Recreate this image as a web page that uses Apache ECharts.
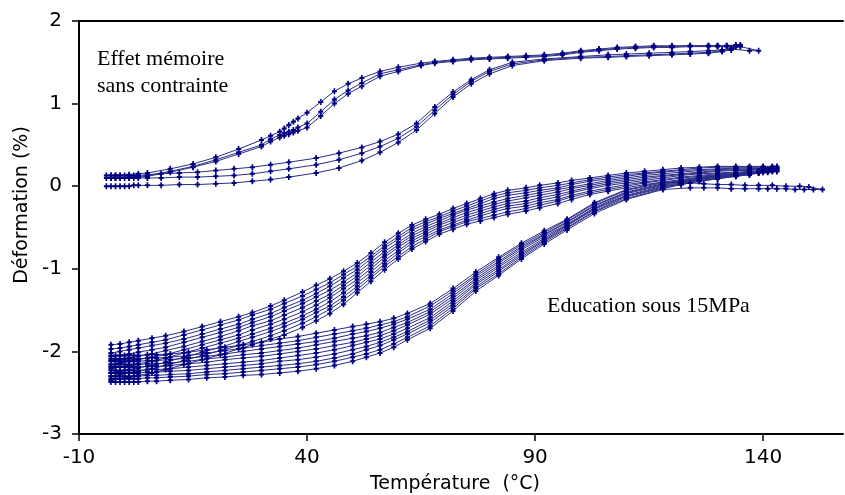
<!DOCTYPE html>
<html><head><meta charset="utf-8">
<script src="https://cdn.jsdelivr.net/npm/echarts@6/dist/echarts.min.js"></script>
<style>html,body{margin:0;padding:0;background:#fff}#c{width:845px;height:495px}</style>
</head><body><div id="c"></div>
<script>
// ---- Tick labels ----
const xTicks = [-10, 40, 90, 140];
const yTicks = [-3, -2, -1, 0, 1, 2];

// ---- Upper group: "Effet mémoire sans contrainte" (3 cycles) ----
const upHeatT = [-4,-3,-2,-1,0,1,2,3,5,8, 12,16,20,24,28,32,36, 42,47,52,56,60,64,68,72,76,80, 85,92,100,106,110,115,120,124,128,131,133];
const upHeat1 = [0.00,0.00,0.00,0.00,0.00,0.00,0.01,0.01,0.01,0.01, 0.02,0.02,0.03,0.04,0.06,0.08,0.11, 0.16,0.22,0.31,0.41,0.53,0.68,0.88,1.08,1.24,1.36, 1.46,1.52,1.55,1.56,1.57,1.58,1.59,1.60,1.61,1.63,1.65];
const upHeat2 = [0.10,0.10,0.10,0.10,0.10,0.10,0.10,0.10,0.10,0.10, 0.11,0.11,0.12,0.13,0.15,0.18,0.21, 0.26,0.32,0.40,0.48,0.58,0.72,0.92,1.11,1.27,1.39, 1.48,1.53,1.56,1.57,1.58,1.59,1.60,1.61,1.62,1.64,1.66];
const upHeat3 = [0.13,0.13,0.13,0.13,0.13,0.13,0.13,0.13,0.14,0.15, 0.16,0.17,0.19,0.21,0.23,0.26,0.29, 0.34,0.40,0.47,0.54,0.63,0.76,0.96,1.14,1.29,1.41, 1.50,1.54,1.57,1.59,1.60,1.61,1.62,1.63,1.64,1.65,1.67];
const upCoolT = [135,134,132,130,128, 124,120,116,112,108,104, 100,96,92,88,84,80, 76,72,68,65, 60,56,52,49,46,43,40, 38,37,36,35,34,32,30, 25,20,15,10,5, 3,1,-1,-2,-3];
const upCoolA = [1.70,1.70,1.70,1.70,1.70, 1.70,1.70,1.70,1.69,1.68,1.66, 1.64,1.61,1.59,1.58,1.57,1.56, 1.55,1.53,1.51,1.49, 1.44,1.39,1.31,1.24,1.15,1.02,0.89, 0.82,0.78,0.74,0.70,0.66,0.61,0.56, 0.45,0.35,0.27,0.21,0.16, 0.15,0.14,0.13,0.13,0.13];
const upCoolB = [1.71,1.71,1.70,1.70,1.70, 1.70,1.69,1.69,1.68,1.67,1.65, 1.63,1.60,1.58,1.57,1.56,1.55, 1.54,1.52,1.50,1.47, 1.41,1.36,1.25,1.16,1.05,0.90,0.76, 0.71,0.68,0.66,0.64,0.62,0.57,0.50, 0.41,0.32,0.24,0.18,0.13, 0.12,0.11,0.10,0.10,0.10];
const upCoolC = [1.69,1.69,1.69,1.69,1.69, 1.69,1.68,1.68,1.67,1.66,1.64, 1.62,1.59,1.57,1.56,1.55,1.54, 1.53,1.51,1.49,1.46, 1.39,1.33,1.21,1.12,1.00,0.85,0.71, 0.67,0.65,0.63,0.61,0.59,0.54,0.48, 0.39,0.30,0.23,0.17,0.12, 0.11,0.10,0.10,0.10,0.10];
const upTailT = [137, 139];
const upTailY = [1.64, 1.64];

// ---- Lower group: "Education sous 15MPa" (10 cycles) ----
const lowHeatT = [-3,-2,-1,0,1,2,3,5,7,10, 14,18,22,26,30,34,38,42,46,50, 53,56,59,62, 67,72,77,82,87,92,97,103,110,118, 122,126,130,134,137,139,141];
const lowHeatY = [
  [-2.05,-2.05,-2.05,-2.05,-2.05,-2.05,-2.05,-2.04,-2.04,-2.03, -2.01,-1.98,-1.95,-1.92,-1.89,-1.85,-1.82,-1.78,-1.74,-1.70, -1.67,-1.64,-1.60,-1.54, -1.42,-1.24,-1.04,-0.86,-0.69,-0.54,-0.40,-0.20,-0.04,0.05, 0.08,0.11,0.13,0.15,0.17,0.18,0.20],
  [-2.09,-2.09,-2.09,-2.09,-2.09,-2.09,-2.09,-2.08,-2.08,-2.07, -2.05,-2.02,-1.99,-1.96,-1.93,-1.90,-1.87,-1.83,-1.79,-1.75, -1.72,-1.68,-1.64,-1.58, -1.45,-1.27,-1.07,-0.88,-0.71,-0.56,-0.41,-0.21,-0.05,0.04, 0.07,0.10,0.13,0.15,0.17,0.18,0.20],
  [-2.12,-2.12,-2.12,-2.12,-2.12,-2.12,-2.12,-2.11,-2.11,-2.10, -2.08,-2.06,-2.03,-2.00,-1.97,-1.94,-1.91,-1.88,-1.84,-1.79, -1.76,-1.72,-1.67,-1.61, -1.49,-1.30,-1.09,-0.91,-0.73,-0.58,-0.43,-0.23,-0.07,0.03, 0.07,0.10,0.12,0.14,0.16,0.18,0.19],
  [-2.16,-2.16,-2.16,-2.16,-2.16,-2.16,-2.16,-2.15,-2.15,-2.14, -2.12,-2.09,-2.07,-2.04,-2.02,-1.99,-1.96,-1.92,-1.88,-1.84, -1.81,-1.77,-1.71,-1.65, -1.52,-1.33,-1.12,-0.93,-0.75,-0.59,-0.44,-0.24,-0.08,0.02, 0.06,0.09,0.12,0.14,0.16,0.18,0.19],
  [-2.19,-2.19,-2.19,-2.19,-2.19,-2.19,-2.19,-2.18,-2.18,-2.17, -2.15,-2.13,-2.10,-2.08,-2.06,-2.03,-2.00,-1.97,-1.93,-1.89, -1.85,-1.81,-1.75,-1.68, -1.55,-1.36,-1.14,-0.96,-0.77,-0.61,-0.46,-0.26,-0.09,0.01, 0.05,0.08,0.11,0.13,0.15,0.17,0.19],
  [-2.23,-2.23,-2.23,-2.23,-2.23,-2.23,-2.23,-2.22,-2.22,-2.21, -2.19,-2.17,-2.15,-2.13,-2.11,-2.08,-2.05,-2.02,-1.98,-1.93, -1.89,-1.85,-1.79,-1.72, -1.59,-1.39,-1.17,-0.98,-0.80,-0.63,-0.47,-0.27,-0.11,0.00, 0.04,0.08,0.11,0.13,0.15,0.17,0.18],
  [-2.26,-2.26,-2.26,-2.26,-2.26,-2.26,-2.26,-2.25,-2.25,-2.24, -2.23,-2.21,-2.19,-2.17,-2.15,-2.12,-2.10,-2.07,-2.03,-1.98, -1.94,-1.89,-1.83,-1.76, -1.62,-1.42,-1.19,-1.01,-0.82,-0.65,-0.48,-0.28,-0.12,-0.01, 0.03,0.07,0.10,0.13,0.15,0.17,0.18],
  [-2.30,-2.30,-2.30,-2.30,-2.30,-2.30,-2.30,-2.29,-2.29,-2.28, -2.27,-2.25,-2.23,-2.21,-2.19,-2.17,-2.15,-2.12,-2.08,-2.03, -1.98,-1.93,-1.86,-1.79, -1.65,-1.45,-1.22,-1.03,-0.84,-0.66,-0.50,-0.30,-0.13,-0.02, 0.02,0.06,0.09,0.12,0.14,0.16,0.18],
  [-2.33,-2.33,-2.33,-2.33,-2.33,-2.33,-2.33,-2.32,-2.32,-2.31, -2.30,-2.28,-2.27,-2.25,-2.23,-2.21,-2.19,-2.16,-2.12,-2.07, -2.03,-1.98,-1.91,-1.83, -1.69,-1.48,-1.24,-1.06,-0.86,-0.68,-0.51,-0.31,-0.15,-0.03, 0.02,0.06,0.09,0.12,0.14,0.16,0.17],
  [-2.37,-2.37,-2.37,-2.37,-2.37,-2.37,-2.37,-2.36,-2.36,-2.35, -2.34,-2.32,-2.31,-2.29,-2.28,-2.26,-2.24,-2.21,-2.17,-2.12, -2.07,-2.02,-1.95,-1.86, -1.72,-1.51,-1.27,-1.08,-0.88,-0.70,-0.53,-0.33,-0.16,-0.04, 0.01,0.05,0.08,0.11,0.13,0.15,0.17]
];
const lowCoolT = [143,142,140,137,134,130, 126,122,118,114,110, 106,102,98,95,91, 88,84,81,78,75, 72,69,66,63,60, 57,54,51,48,45, 42,39,35,32,28, 25,21,17,13,9, 6,3,1,-1,-3];
const lowCoolY = [
  [0.24,0.24,0.24,0.24,0.24,0.24, 0.23,0.22,0.20,0.18,0.16, 0.13,0.10,0.07,0.04,0.01, -0.02,-0.05,-0.09,-0.15,-0.21, -0.27,-0.34,-0.40,-0.47,-0.57, -0.68,-0.81,-0.93,-1.03,-1.12, -1.20,-1.28,-1.38,-1.45,-1.53, -1.58,-1.64,-1.70,-1.76,-1.81, -1.84,-1.87,-1.89,-1.91,-1.92],
  [0.23,0.23,0.23,0.23,0.23,0.23, 0.22,0.20,0.18,0.16,0.14, 0.11,0.08,0.04,0.01,-0.02, -0.05,-0.08,-0.12,-0.18,-0.24, -0.30,-0.37,-0.43,-0.50,-0.61, -0.72,-0.85,-0.97,-1.07,-1.17, -1.25,-1.33,-1.42,-1.49,-1.56, -1.62,-1.68,-1.74,-1.80,-1.86, -1.89,-1.92,-1.94,-1.96,-1.97],
  [0.22,0.22,0.22,0.22,0.22,0.21, 0.20,0.19,0.17,0.15,0.12, 0.09,0.06,0.02,-0.02,-0.05, -0.08,-0.11,-0.15,-0.21,-0.27, -0.33,-0.39,-0.46,-0.53,-0.64, -0.75,-0.88,-1.01,-1.11,-1.21, -1.30,-1.38,-1.47,-1.54,-1.61, -1.67,-1.73,-1.79,-1.85,-1.90, -1.93,-1.96,-1.98,-2.00,-2.02],
  [0.22,0.22,0.22,0.21,0.21,0.20, 0.19,0.17,0.15,0.13,0.10, 0.07,0.03,-0.01,-0.04,-0.08, -0.11,-0.15,-0.19,-0.24,-0.29, -0.35,-0.42,-0.49,-0.57,-0.68, -0.79,-0.92,-1.05,-1.16,-1.26, -1.34,-1.42,-1.51,-1.58,-1.65, -1.71,-1.77,-1.83,-1.89,-1.95, -1.98,-2.01,-2.03,-2.05,-2.06],
  [0.21,0.21,0.21,0.20,0.20,0.19, 0.17,0.15,0.13,0.11,0.08, 0.05,0.01,-0.03,-0.07,-0.11, -0.14,-0.18,-0.22,-0.27,-0.32, -0.38,-0.45,-0.52,-0.60,-0.71, -0.83,-0.96,-1.09,-1.20,-1.31, -1.39,-1.47,-1.56,-1.63,-1.69, -1.75,-1.82,-1.88,-1.94,-1.99, -2.03,-2.06,-2.08,-2.10,-2.11],
  [0.20,0.20,0.20,0.19,0.19,0.18, 0.16,0.14,0.12,0.09,0.06, 0.03,-0.01,-0.06,-0.10,-0.14, -0.18,-0.21,-0.25,-0.30,-0.35, -0.41,-0.47,-0.55,-0.63,-0.74, -0.86,-1.00,-1.13,-1.24,-1.35, -1.44,-1.52,-1.61,-1.67,-1.74, -1.80,-1.86,-1.92,-1.98,-2.04, -2.07,-2.10,-2.12,-2.14,-2.16],
  [0.19,0.19,0.18,0.18,0.17,0.16, 0.15,0.13,0.10,0.07,0.04, 0.01,-0.03,-0.08,-0.13,-0.17, -0.21,-0.24,-0.28,-0.33,-0.38, -0.44,-0.50,-0.58,-0.66,-0.78, -0.90,-1.04,-1.17,-1.29,-1.40, -1.49,-1.57,-1.66,-1.72,-1.79, -1.84,-1.90,-1.96,-2.02,-2.08, -2.12,-2.15,-2.17,-2.19,-2.21],
  [0.18,0.18,0.17,0.17,0.16,0.15, 0.13,0.11,0.08,0.05,0.02, -0.02,-0.06,-0.11,-0.16,-0.20, -0.24,-0.27,-0.31,-0.36,-0.41, -0.47,-0.53,-0.61,-0.69,-0.81, -0.94,-1.08,-1.21,-1.34,-1.45, -1.53,-1.61,-1.70,-1.76,-1.83, -1.88,-1.95,-2.01,-2.07,-2.13, -2.17,-2.20,-2.22,-2.24,-2.26],
  [0.18,0.18,0.17,0.16,0.15,0.14, 0.12,0.10,0.07,0.04,0.00, -0.04,-0.08,-0.13,-0.18,-0.23, -0.27,-0.31,-0.35,-0.39,-0.43, -0.49,-0.55,-0.64,-0.73,-0.85, -0.97,-1.11,-1.25,-1.38,-1.49, -1.58,-1.66,-1.75,-1.81,-1.88, -1.93,-1.99,-2.05,-2.11,-2.17, -2.21,-2.24,-2.26,-2.28,-2.30],
  [0.17,0.17,0.16,0.15,0.14,0.12, 0.10,0.08,0.05,0.02,-0.02, -0.06,-0.10,-0.16,-0.21,-0.26, -0.30,-0.34,-0.38,-0.42,-0.46, -0.52,-0.58,-0.67,-0.76,-0.88, -1.01,-1.15,-1.29,-1.43,-1.54, -1.63,-1.71,-1.80,-1.85,-1.92, -1.97,-2.04,-2.10,-2.16,-2.22, -2.26,-2.29,-2.31,-2.33,-2.35]
];
// last cycle overshoot to 153 °C
const lastTailT = [124, 127, 130, 133, 136, 139, 141, 143, 145, 147, 149, 151, 153, 150, 148, 145, 142, 139, 136, 133, 130, 127, 124];
const lastTailY = [-0.02, -0.02, -0.02, -0.03, -0.03, -0.03, -0.03, -0.03, -0.03, -0.04, -0.04, -0.04, -0.04, -0.01, 0.00, 0.00, 0.01, 0.01, 0.01, 0.02, 0.02, 0.03, 0.04];

// ---- Texts ----
const xTitle = 'Température  (°C)';
const yTitle = 'Déformation (%)';
const note1a = 'Effet mémoire';
const note1b = 'sans contrainte';
const note2 = 'Education sous 15MPa';

function zip(t, y) { return t.map((v, i) => [v, y[i]]); }

const cycles = [];
cycles.push(zip(upHeatT, upHeat1).concat(zip(upCoolT, upCoolA)));
cycles.push(zip(upHeatT, upHeat3).concat(zip(upCoolT, upCoolB)));
cycles.push(zip(upHeatT, upHeat2).concat(zip(upTailT, upTailY), zip(upCoolT, upCoolC)));
for (let k = 0; k < lowHeatY.length; k++) {
  if (k < lowHeatY.length - 1) {
    cycles.push(zip(lowHeatT, lowHeatY[k]).concat(zip(lowCoolT, lowCoolY[k])));
  } else {
    cycles.push(
      zip(lowHeatT, lowHeatY[k]).filter(p => p[0] <= 118)
        .concat(zip(lastTailT, lastTailY), zip(lowCoolT, lowCoolY[k]).filter(p => p[0] <= 118))
    );
  }
}

const plus = 'path://M2,0L4,0L4,2L6,2L6,4L4,4L4,6L2,6L2,4L0,4L0,2L2,2Z';
const series = cycles.map(d => ({
  type: 'line', data: d, xAxisIndex: 0, yAxisIndex: 0,
  symbol: plus, symbolSize: [5, 6], showSymbol: true,
  lineStyle: { color: '#2c2c88', width: 1 },
  itemStyle: { color: '#000080' },
  emphasis: { disabled: true }, silent: true, animation: false
}));

const axisFont = { fontFamily: 'DejaVu Sans', fontSize: 20, color: '#000' };
const chart = echarts.init(document.getElementById('c'), null, { renderer: 'canvas' });
chart.setOption({
  animation: false,
  backgroundColor: '#fff',
  grid: { left: 79, right: 2, top: 21, bottom: 61, containLabel: false },
  xAxis: [{
    type: 'value', min: -10, max: 157.5, interval: 50, position: 'bottom',
    axisLine: { show: true, onZero: false, lineStyle: { color: '#000', width: 2 } },
    axisTick: { show: true, inside: false, length: 7, customValues: xTicks, lineStyle: { color: '#000', width: 1.5 } },
    axisLabel: Object.assign({ margin: 14, customValues: xTicks, formatter: v => String(v) }, axisFont),
    splitLine: { show: false }
  }, {
    type: 'value', min: -10, max: 157.5, position: 'top',
    axisLine: { show: true, onZero: false, lineStyle: { color: '#000', width: 2 } },
    axisTick: { show: false }, axisLabel: { show: false }, splitLine: { show: false }
  }],
  yAxis: {
    type: 'value', min: -3, max: 2, interval: 1,
    axisLine: { show: true, onZero: false, lineStyle: { color: '#000', width: 2 } },
    axisTick: { show: true, inside: false, length: 7, lineStyle: { color: '#000', width: 1.5 } },
    axisLabel: Object.assign({ margin: 17, formatter: v => String(v) }, axisFont),
    splitLine: { show: false }
  },
  series: series,
  graphic: [
    { type: 'text', x: 455, y: 484, style: { text: xTitle, font: '19px "DejaVu Sans"', fill: '#000', align: 'center', verticalAlign: 'middle' } },
    { type: 'text', x: 22, y: 205, rotation: Math.PI / 2, style: { text: yTitle, font: '19px "DejaVu Sans"', fill: '#000', align: 'center', verticalAlign: 'middle' } },
    { type: 'text', x: 97, y: 59.5, style: { text: note1a, font: '22px "Liberation Serif"', fill: '#000', align: 'left', verticalAlign: 'middle' } },
    { type: 'text', x: 97, y: 86, style: { text: note1b, font: '22px "Liberation Serif"', fill: '#000', align: 'left', verticalAlign: 'middle' } },
    { type: 'text', x: 547, y: 306, style: { text: note2, font: '22px "Liberation Serif"', fill: '#000', align: 'left', verticalAlign: 'middle' } }
  ]
});
</script></body></html>
